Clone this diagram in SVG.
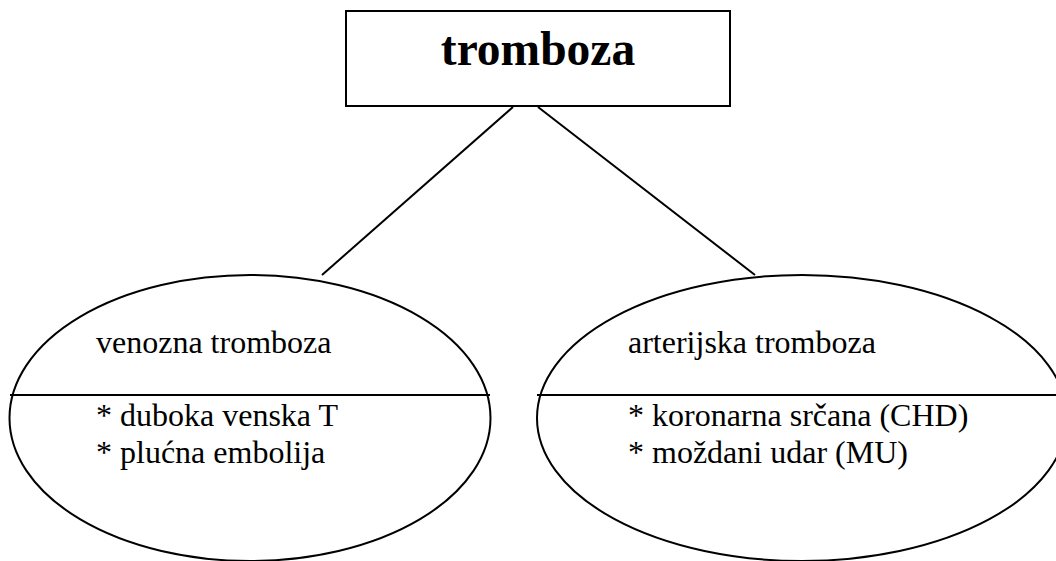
<svg xmlns="http://www.w3.org/2000/svg" width="1056" height="561" viewBox="0 0 1056 561">
<style>
.s{fill:none;stroke:#000;stroke-width:2}
.t{font-family:"Liberation Serif","Times New Roman",serif;font-size:32px;fill:#000}
.h{font-family:"Liberation Serif","Times New Roman",serif;font-size:47.5px;font-weight:bold;fill:#000}
</style>
<rect width="1056" height="561" fill="#fff"/>
<g id="connectors">
<line class="s" x1="513" y1="107" x2="322" y2="275"/>
<line class="s" x1="538" y1="107" x2="755" y2="275"/>
</g>
<g id="root">
<rect class="s" x="346" y="11" width="384" height="95"/>
<text class="h" x="538" y="65" text-anchor="middle">tromboza</text>
</g>
<g id="venozna">
<ellipse class="s" cx="250" cy="418" rx="240.5" ry="143"/>
<line class="s" x1="10" y1="395" x2="490" y2="395"/>
<text class="t" x="96" y="353">venozna tromboza</text>
<text class="t" x="96" y="426">* duboka venska T</text>
<text class="t" x="96" y="463">* plućna embolija</text>
</g>
<g id="arterijska">
<ellipse class="s" cx="802" cy="418" rx="265" ry="143"/>
<line class="s" x1="537" y1="395" x2="1056" y2="395"/>
<text class="t" x="628" y="353">arterijska tromboza</text>
<text class="t" x="628" y="426">* koronarna srčana (CHD)</text>
<text class="t" x="628" y="463">* moždani udar (MU)</text>
</g>
</svg>
